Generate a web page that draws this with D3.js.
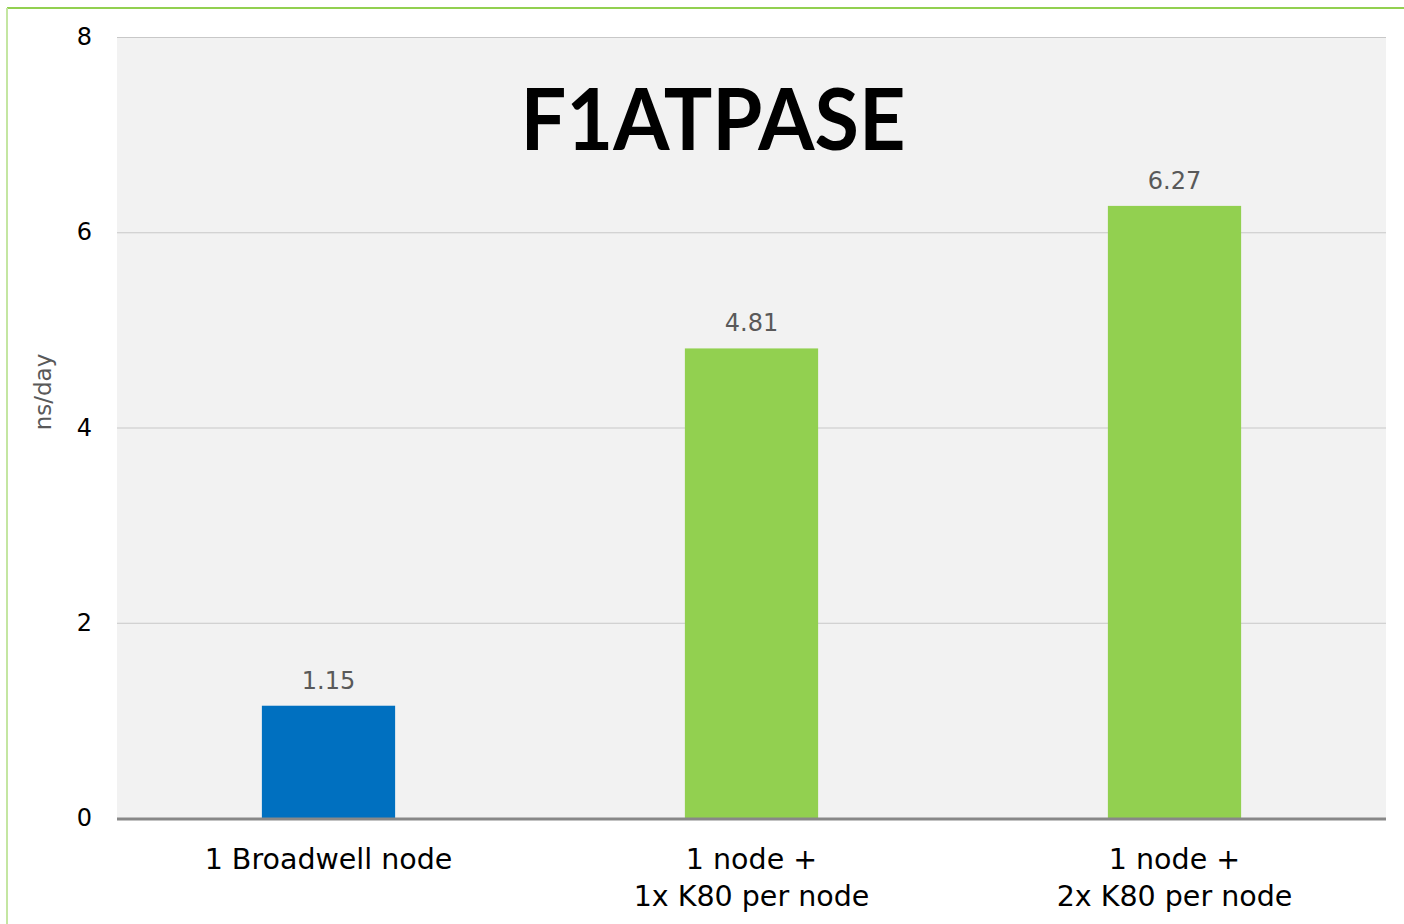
<!DOCTYPE html>
<html>
<head>
<meta charset="utf-8">
<script src="https://cdnjs.cloudflare.com/ajax/libs/d3/7.8.5/d3.min.js"></script>
<style>
  body { margin: 0; background: #fff; }
  svg { display: block; }
  .tick text { font-family: "DejaVu Sans", sans-serif; }
</style>
</head>
<body>
<script>
// chart data
var categories = [["1 Broadwell node"], ["1 node +", "1x K80 per node"], ["1 node +", "2x K80 per node"]];
var values = [1.15, 4.81, 6.27];
var valueLabels = ["1.15", "4.81", "6.27"];
var barColors = ["#0070c0", "#92d050", "#92d050"];
var yTicks = [0, 2, 4, 6, 8];

var width = 1404,
    height = 924;

var svg = d3.select("body")
    .append("svg")
    .attr("width", width)
    .attr("height", height);

//green frame lines
svg.append("line")
    .attr("x1", 7).attr("x2", width).attr("y1", 8).attr("y2", 8)
    .attr("stroke", "#92d050").attr("stroke-width", 2);
svg.append("line")
    .attr("x1", 7).attr("x2", 7).attr("y1", 8).attr("y2", height)
    .attr("stroke", "#c4e6a2").attr("stroke-width", 2);

var plotL = 117, plotR = 1386, plotT = 37, plotB = 818;

var x = d3.scaleBand()
    .domain(d3.range(values.length))
    .range([plotL, plotR]);

var y = d3.scaleLinear()
    .domain([0, 8])
    .range([plotB, plotT]);

//plot background
svg.append("rect")
    .attr("x", plotL).attr("y", plotT)
    .attr("width", plotR - plotL).attr("height", plotB - plotT)
    .attr("fill", "#f2f2f2");

//gridlines
svg.selectAll(".grid")
    .data(yTicks.filter(function(d){ return d > 0; }))
    .enter()
    .append("line")
    .attr("class", "grid")
    .attr("x1", plotL).attr("x2", plotR)
    .attr("y1", function(d){ return y(d) + 0.5; })
    .attr("y2", function(d){ return y(d) + 0.5; })
    .attr("stroke", "#c8c8c8").attr("stroke-width", 1);

//y axis labels
var yAxis = d3.axisLeft(y).tickValues(yTicks).tickSize(0).tickPadding(25);
var yg = svg.append("g")
    .attr("transform", "translate(" + plotL + ",0)")
    .call(yAxis);
yg.select(".domain").remove();
yg.selectAll("text").attr("font-size", 24).attr("fill", "#000");

//y axis title
svg.append("text")
    .attr("transform", "translate(51,392) rotate(-90)")
    .attr("text-anchor", "middle")
    .attr("font-family", "DejaVu Sans, sans-serif")
    .attr("font-size", 23)
    .attr("fill", "#595959")
    .text("ns/day");

//bars
var barW = x.bandwidth() * 0.315;
svg.selectAll(".bar")
    .data(values)
    .enter()
    .append("rect")
    .attr("class", "bar")
    .attr("x", function(d, i){ return x(i) + x.bandwidth() / 2 - barW / 2; })
    .attr("y", function(d){ return y(d); })
    .attr("width", barW)
    .attr("height", function(d){ return plotB - y(d); })
    .attr("fill", function(d, i){ return barColors[i]; });

//value labels
svg.selectAll(".val")
    .data(values)
    .enter()
    .append("text")
    .attr("class", "val")
    .attr("x", function(d, i){ return x(i) + x.bandwidth() / 2; })
    .attr("y", function(d){ return y(d) - 17; })
    .attr("text-anchor", "middle")
    .attr("font-family", "DejaVu Sans, sans-serif")
    .attr("font-size", 24)
    .attr("fill", "#595959")
    .text(function(d, i){ return valueLabels[i]; });

//baseline
svg.append("line")
    .attr("x1", plotL).attr("x2", plotR)
    .attr("y1", plotB + 1).attr("y2", plotB + 1)
    .attr("stroke", "#888").attr("stroke-width", 3);

//category labels
var cat = svg.selectAll(".cat")
    .data(categories)
    .enter()
    .append("text")
    .attr("class", "cat")
    .attr("text-anchor", "middle")
    .attr("font-family", "DejaVu Sans, sans-serif")
    .attr("font-size", 28.5)
    .attr("fill", "#000");
cat.selectAll("tspan")
    .data(function(d, i){ return d.map(function(s){ return {s: s, i: i}; }); })
    .enter()
    .append("tspan")
    .attr("x", function(d){ return x(d.i) + x.bandwidth() / 2; })
    .attr("y", function(d, j){ return 869 + j * 37; })
    .text(function(d){ return d.s; });

//title
svg.append("text")
    .attr("x", 713)
    .attr("y", 150)
    .attr("text-anchor", "middle")
    .attr("font-family", "Lato, sans-serif")
    .attr("font-weight", "bold")
    .attr("font-size", 86)
    .attr("textLength", 385)
    .attr("lengthAdjust", "spacingAndGlyphs")
    .attr("fill", "#000")
    .text("F1ATPASE");
</script>
</body>
</html>
